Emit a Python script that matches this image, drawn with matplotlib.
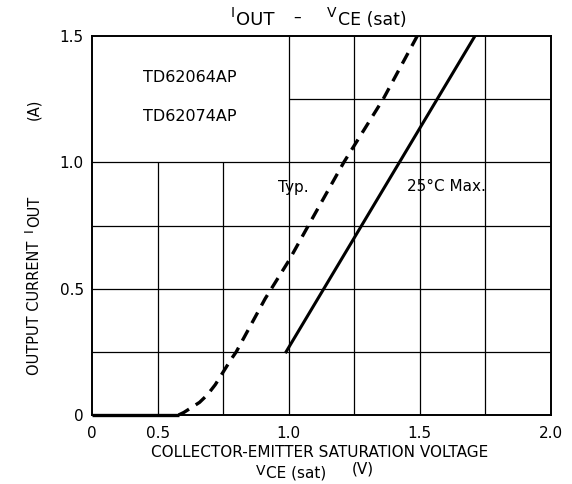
import numpy as np
import matplotlib
matplotlib.use('Agg')
import matplotlib.pyplot as plt

plt.rcParams['font.family'] = ['DejaVu Sans']

# Typ. curve (dashed)
typ_v = [0.58, 0.60, 0.63, 0.66, 0.69, 0.72, 0.75, 0.78, 0.80, 0.91, 1.00, 1.075, 1.21, 1.36, 1.49]
typ_i = [0.00, 0.01, 0.03, 0.05, 0.08, 0.12, 0.17, 0.22, 0.25, 0.46, 0.61, 0.75, 1.00, 1.25, 1.50]
# zero-current stretch at the bottom
flat_v = [0.0, 0.58]
flat_i = [0.0, 0.0]
# 25 C max (solid)
max_v = [0.99, 1.71]
max_i = [0.25, 1.50]

x_ticks = [0, 0.5, 1.0, 1.5, 2.0]
x_ticklabels = ['0', '0.5', '1.0', '1.5', '2.0']
y_ticks = [0, 0.5, 1.0, 1.5]
y_ticklabels = ['0', '0.5', '1.0', '1.5']
vgrid_short = [0.5, 0.75]
vgrid_full = [1.0, 1.25, 1.5, 1.75]
hgrid_full = [0.25, 0.5, 0.75, 1.0]
hgrid_short = [1.25]


# x axis: 0..0.5 squeezed into one grid cell, then linear
def fwd(v):
    v = np.asarray(v, dtype=float)
    return np.where(v < 0.5, v * 0.5, v - 0.25)


def inv(u):
    u = np.asarray(u, dtype=float)
    return np.where(u < 0.25, u * 2.0, u + 0.25)


W, H = 572, 484
fig = plt.figure(figsize=(W / 100, H / 100), dpi=100)
ax = fig.add_axes([92 / W, 1 - 415 / H, 459 / W, 379 / H])
ax.set_xscale('function', functions=(fwd, inv))
ax.set_xlim(0, 2.0)
ax.set_ylim(0, 1.5)

# grid, leaving the top-left box blank
ax.vlines(vgrid_short, 0, 1.0, color='black', lw=0.9, zorder=1)
ax.vlines(vgrid_full, 0, 1.5, color='black', lw=0.9, zorder=1)
ax.hlines(hgrid_full, 0, 2.0, color='black', lw=0.9, zorder=1)
ax.hlines(hgrid_short, 1.0, 2.0, color='black', lw=0.9, zorder=1)

ax.plot(flat_v, flat_i, color='black', lw=2.4, solid_capstyle='butt',
        clip_on=False, zorder=3)
ax.plot(typ_v, typ_i, color='black', lw=2.4, dashes=(3.6, 2.4), zorder=3)
ax.plot(max_v, max_i, color='black', lw=2.2, zorder=3)

for s in ax.spines.values():
    s.set_linewidth(1.4)

ax.set_xticks(x_ticks)
ax.set_xticklabels(x_ticklabels)
ax.set_yticks(y_ticks)
ax.set_yticklabels(y_ticklabels)
ax.xaxis.set_minor_locator(plt.NullLocator())
ax.tick_params(length=0, labelsize=11)
ax.tick_params(axis='x', pad=8)
ax.tick_params(axis='y', pad=6)

ax.text(0.111, 0.891, 'TD62064AP', transform=ax.transAxes, fontsize=11.5, va='center')
ax.text(0.111, 0.788, 'TD62074AP', transform=ax.transAxes, fontsize=11.5, va='center')
ax.text(0.405, 0.600, 'Typ.', transform=ax.transAxes, fontsize=11, va='center')
ax.text(0.686, 0.603, '25°C Max.', transform=ax.transAxes, fontsize=11, va='center')


def put(x, y, s, size, rot=0):
    # x, y in pixels from top-left; anchor = start of baseline
    fig.text(x / W, 1 - y / H, s, fontsize=size, rotation=rot,
             rotation_mode='anchor', ha='left', va='baseline')


# title  I_OUT - V_CE (sat)
put(231, 17, 'I', 10)
put(236, 25, 'OUT', 13)
fig.text(297 / W, 1 - 17 / H, '–', fontsize=11, ha='center', va='center')
put(327, 17, 'V', 10)
put(338, 25, 'CE (sat)', 12.5)

# x label
fig.text(320 / W, 1 - 457 / H, 'COLLECTOR-EMITTER SATURATION VOLTAGE',
         fontsize=11, ha='center', va='baseline')
put(256, 475, 'V', 10)
put(266, 478, 'CE (sat)', 11)
put(352, 474, '(V)', 11)

# y label (rotated)
put(39, 375, 'OUTPUT CURRENT', 10.5, rot=90)
put(33, 232, 'I', 9.5, rot=90)
put(39, 227, 'OUT', 10.5, rot=90)
put(38, 120, '(A)', 10.5, rot=90)

fig.savefig('out.png', dpi=100, facecolor='white')
